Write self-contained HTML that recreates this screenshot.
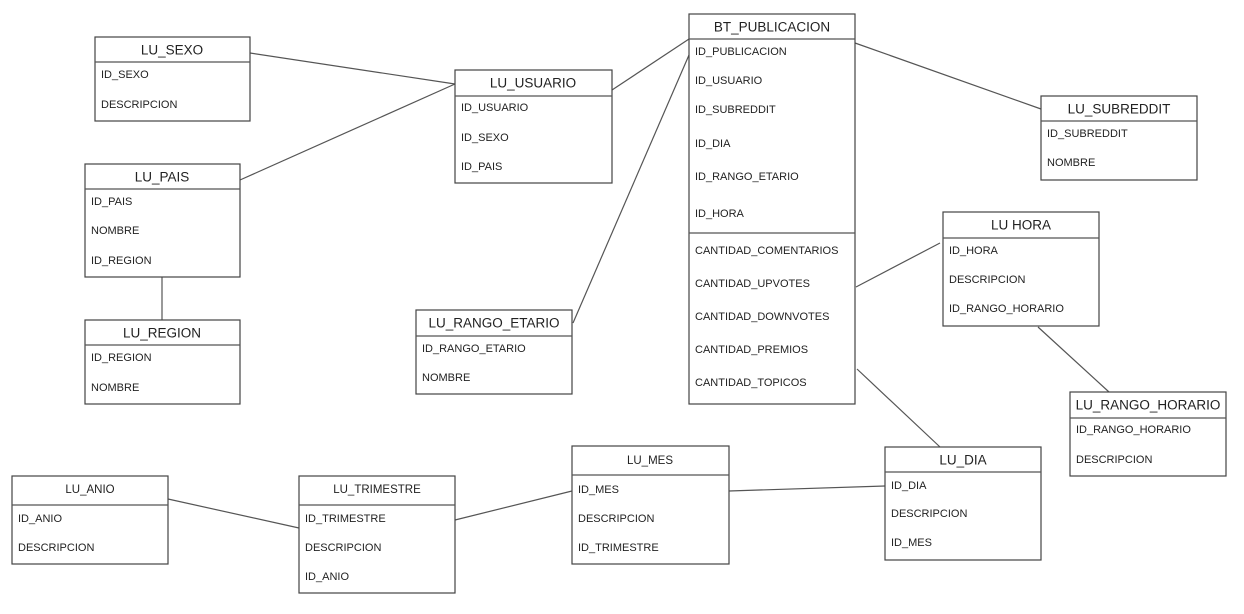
<!DOCTYPE html>
<html><head><meta charset="utf-8"><style>
html,body{margin:0;padding:0;background:#fff;}
svg{display:block;}
text{font-family:"Liberation Sans",sans-serif;fill:#222;}
.h{font-size:13.5px;text-anchor:middle;dominant-baseline:central;}
.hs{font-size:11.5px;text-anchor:middle;dominant-baseline:central;}
.r{font-size:11px;dominant-baseline:central;}
rect{fill:#fff;stroke:#444;stroke-width:1.2;}
line{stroke:#555;stroke-width:1.2;}
</style></head><body>
<svg width="1244" height="614" viewBox="0 0 1244 614" xmlns="http://www.w3.org/2000/svg">
<!-- connectors -->
<line x1="250" y1="53" x2="455" y2="84"/>
<line x1="240" y1="180" x2="455" y2="84"/>
<line x1="162" y1="277" x2="162" y2="320"/>
<line x1="573" y1="323" x2="689" y2="55"/>
<line x1="612" y1="90" x2="689" y2="39"/>
<line x1="855" y1="43" x2="1041" y2="109"/>
<line x1="856" y1="287" x2="940" y2="243"/>
<line x1="1038" y1="327" x2="1109" y2="392"/>
<line x1="857" y1="369" x2="940" y2="447"/>
<line x1="729" y1="491" x2="885" y2="486"/>
<line x1="168" y1="499" x2="299" y2="528"/>
<line x1="455" y1="520" x2="572" y2="491"/>

<!-- LU_SEXO -->
<rect x="95" y="37" width="155" height="84"/><line x1="95" y1="62" x2="250" y2="62"/>
<text class="h" x="172" y="50">LU_SEXO</text>
<text class="r" x="101" y="75">ID_SEXO</text><text class="r" x="101" y="105">DESCRIPCION</text>

<!-- LU_USUARIO -->
<rect x="455" y="70" width="157" height="113"/><line x1="455" y1="96" x2="612" y2="96"/>
<text class="h" x="533" y="83">LU_USUARIO</text>
<text class="r" x="461" y="108">ID_USUARIO</text><text class="r" x="461" y="138">ID_SEXO</text><text class="r" x="461" y="167">ID_PAIS</text>

<!-- LU_PAIS -->
<rect x="85" y="164" width="155" height="113"/><line x1="85" y1="189" x2="240" y2="189"/>
<text class="h" x="162" y="177">LU_PAIS</text>
<text class="r" x="91" y="202">ID_PAIS</text><text class="r" x="91" y="231">NOMBRE</text><text class="r" x="91" y="261">ID_REGION</text>

<!-- LU_REGION -->
<rect x="85" y="320" width="155" height="84"/><line x1="85" y1="345" x2="240" y2="345"/>
<text class="h" x="162" y="333">LU_REGION</text>
<text class="r" x="91" y="358">ID_REGION</text><text class="r" x="91" y="388">NOMBRE</text>

<!-- LU_RANGO_ETARIO -->
<rect x="416" y="310" width="156" height="84"/><line x1="416" y1="336" x2="572" y2="336"/>
<text class="h" x="494" y="323">LU_RANGO_ETARIO</text>
<text class="r" x="422" y="349">ID_RANGO_ETARIO</text><text class="r" x="422" y="378">NOMBRE</text>

<!-- BT_PUBLICACION -->
<rect x="689" y="14" width="166" height="390"/><line x1="689" y1="39" x2="855" y2="39"/><line x1="689" y1="233" x2="855" y2="233"/>
<text class="h" x="772" y="27">BT_PUBLICACION</text>
<text class="r" x="695" y="52">ID_PUBLICACION</text>
<text class="r" x="695" y="81">ID_USUARIO</text>
<text class="r" x="695" y="110">ID_SUBREDDIT</text>
<text class="r" x="695" y="144">ID_DIA</text>
<text class="r" x="695" y="177">ID_RANGO_ETARIO</text>
<text class="r" x="695" y="214">ID_HORA</text>
<text class="r" x="695" y="251">CANTIDAD_COMENTARIOS</text>
<text class="r" x="695" y="284">CANTIDAD_UPVOTES</text>
<text class="r" x="695" y="317">CANTIDAD_DOWNVOTES</text>
<text class="r" x="695" y="350">CANTIDAD_PREMIOS</text>
<text class="r" x="695" y="383">CANTIDAD_TOPICOS</text>

<!-- LU_SUBREDDIT -->
<rect x="1041" y="96" width="156" height="84"/><line x1="1041" y1="121" x2="1197" y2="121"/>
<text class="h" x="1119" y="109">LU_SUBREDDIT</text>
<text class="r" x="1047" y="134">ID_SUBREDDIT</text><text class="r" x="1047" y="163">NOMBRE</text>

<!-- LU HORA -->
<rect x="943" y="212" width="156" height="114"/><line x1="943" y1="238" x2="1099" y2="238"/>
<text class="h" x="1021" y="225">LU HORA</text>
<text class="r" x="949" y="251">ID_HORA</text><text class="r" x="949" y="280">DESCRIPCION</text><text class="r" x="949" y="309">ID_RANGO_HORARIO</text>

<!-- LU_RANGO_HORARIO -->
<rect x="1070" y="392" width="156" height="84"/><line x1="1070" y1="418" x2="1226" y2="418"/>
<text class="h" x="1148" y="405">LU_RANGO_HORARIO</text>
<text class="r" x="1076" y="430">ID_RANGO_HORARIO</text><text class="r" x="1076" y="460">DESCRIPCION</text>

<!-- LU_DIA -->
<rect x="885" y="447" width="156" height="113"/><line x1="885" y1="472" x2="1041" y2="472"/>
<text class="h" x="963" y="460">LU_DIA</text>
<text class="r" x="891" y="486">ID_DIA</text><text class="r" x="891" y="514">DESCRIPCION</text><text class="r" x="891" y="543">ID_MES</text>

<!-- LU_MES -->
<rect x="572" y="446" width="157" height="118"/><line x1="572" y1="475" x2="729" y2="475"/>
<text class="hs" x="650" y="461">LU_MES</text>
<text class="r" x="578" y="490">ID_MES</text><text class="r" x="578" y="519">DESCRIPCION</text><text class="r" x="578" y="548">ID_TRIMESTRE</text>

<!-- LU_TRIMESTRE -->
<rect x="299" y="476" width="156" height="117"/><line x1="299" y1="505" x2="455" y2="505"/>
<text class="hs" x="377" y="490">LU_TRIMESTRE</text>
<text class="r" x="305" y="519">ID_TRIMESTRE</text><text class="r" x="305" y="548">DESCRIPCION</text><text class="r" x="305" y="577">ID_ANIO</text>

<!-- LU_ANIO -->
<rect x="12" y="476" width="156" height="88"/><line x1="12" y1="505" x2="168" y2="505"/>
<text class="hs" x="90" y="490">LU_ANIO</text>
<text class="r" x="18" y="519">ID_ANIO</text><text class="r" x="18" y="548">DESCRIPCION</text>
</svg>
</body></html>
